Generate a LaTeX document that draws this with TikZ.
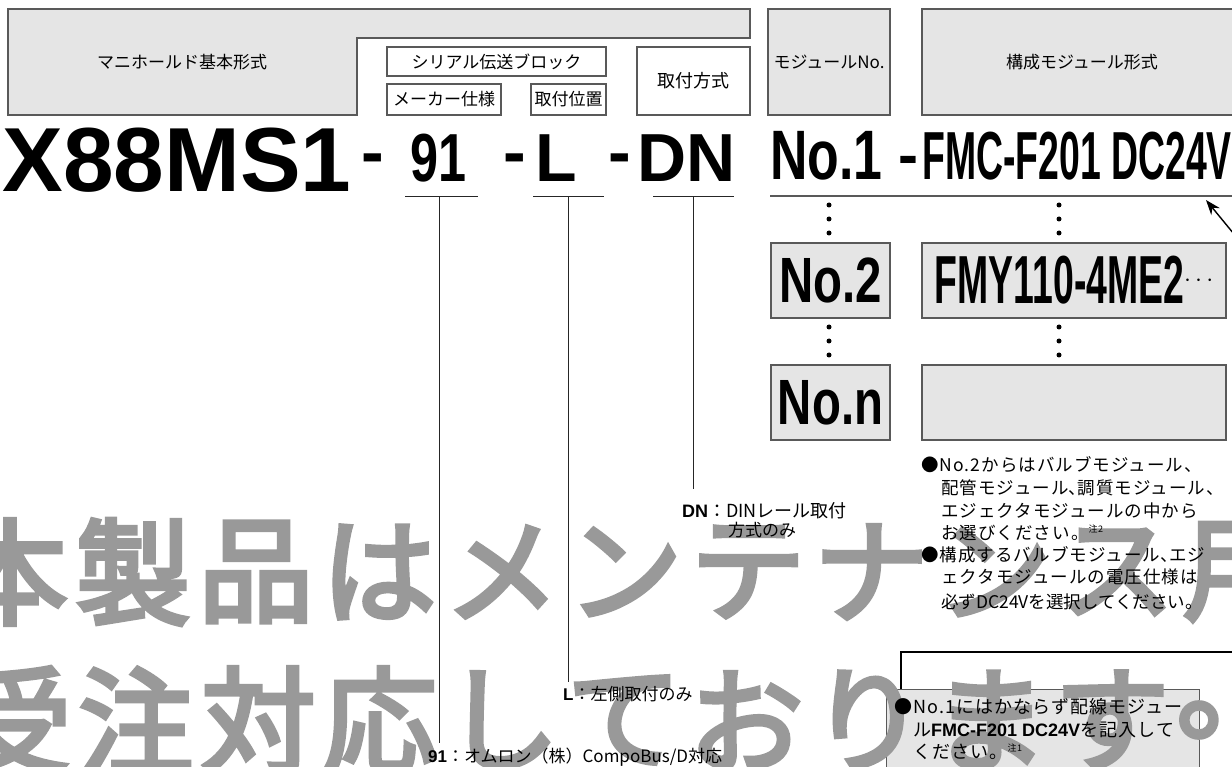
\documentclass[tikz,border=0pt]{standalone}
\usepackage{fontspec}
\setmainfont{Noto Sans CJK JP}
\newfontfamily\notefont{Noto Sans CJK JP}[LetterSpace=6]
\newfontfamily\stampfont{Noto Sans CJK JP}[FakeBold=4]
\newfontfamily\boldlatin{Liberation Sans}
\newfontfamily\condlatin{Liberation Sans}[FakeStretch=0.74]
\newfontfamily\narrowlatin{Liberation Sans}[FakeStretch=0.55]
\usetikzlibrary{arrows.meta}

\definecolor{panelgray}{gray}{0.9}
\definecolor{rulegray}{gray}{0.35}
\definecolor{stampgray}{gray}{0.6}

\newcommand{\pxsize}[1]{\fontsize{#1}{#1}\selectfont}
\newcommand{\halfcomma}{\makebox[9pt][l]{、}}

\begin{document}
\begin{tikzpicture}[x=1pt, y=-1pt,
    panel/.style={draw=rulegray, line width=1.4pt, fill=panelgray, inner sep=0pt},
    tag/.style={draw=rulegray, line width=1.2pt, fill=white, inner sep=0pt, font=\pxsize{17}},
    code/.style={anchor=base, inner sep=0pt, font=\boldlatin\bfseries\pxsize{68}},
    lead/.style={line width=1pt, draw=black!85},
    note/.style={anchor=west, inner sep=0pt, font=\pxsize{17}},
    hint/.style={anchor=west, inner sep=0pt, font=\notefont\pxsize{17.5}},
    stamp/.style={inner sep=0pt, text=stampgray, font=\stampfont\pxsize{115}}]
    \useasboundingbox (0,0) rectangle (1232,767);
    \clip (0,0) rectangle (1232,767);

    % header fields
    \draw [panel] (8,9) -- (750,9) -- (750,38) -- (357,38) -- (357,115) -- (8,115) -- cycle;
    \node [font=\pxsize{17}] (basename) at (182,62) {マニホールド基本形式};
    \node [tag, minimum width=219, minimum height=29] (serial) at (496.5,61.5) {シリアル伝送ブロック};
    \node [tag, minimum width=114, minimum height=31] (maker) at (444,99.5) {メーカー仕様};
    \node [tag, minimum width=75, minimum height=31] (mountpos) at (568.5,99.5) {取付位置};
    \node [tag, minimum width=113, minimum height=68, font=\pxsize{18}] (mountway) at (693.5,81) {取付方式};
    \node [panel, minimum width=122, minimum height=106, font=\pxsize{17}] (modno) at (829,62) {モジュールNo.};
    \node [panel, minimum width=320, minimum height=106, font=\pxsize{17}] (modtype) at (1082,62) {構成モジュール形式};

    % model code
    \node [code, font=\boldlatin\bfseries\pxsize{91}] (base) at (177,192) {X88MS1};
    \node [code] (dash1) at (373,176) {-};
    \node [code, font=\condlatin\bfseries\pxsize{68}] (maker91) at (438.5,182) {91};
    \node [code] (dash2) at (514.5,176) {-};
    \node [code] (side) at (556,182) {L};
    \node [code] (dash3) at (619.5,176) {-};
    \node [code] (rail) at (686.5,182) {DN};
    \node [code, font=\condlatin\bfseries\pxsize{70}] (first) at (826.5,180) {No.1};
    \node [code, font=\boldlatin\bfseries\pxsize{60}] (dash4) at (908,176) {-};
    \node [code, font=\narrowlatin\bfseries\pxsize{68}] (wiring) at (1077,180) {FMC-F201 DC24V};

    \draw [lead] (405,197) -- (478,197);
    \draw [lead] (533,197) -- (604,197);
    \draw [lead] (653,197) -- (734,197);
    \draw [draw=rulegray, line width=1.4pt] (770,196) -- (1232,196);
    \coordinate (bar91) at (439,197);
    \coordinate (barL) at (568,197);
    \coordinate (barDN) at (693,197);

    % module rows
    \node [panel, minimum width=119, minimum height=75, font=\condlatin\bfseries\pxsize{64}] (second) at (830.5,280.5) {No.2};
    \node [panel, minimum width=304, minimum height=75, font=\narrowlatin\bfseries\pxsize{68}] (secondtype) at (1074,280.5) {FMY110-4ME2\smash{\raisebox{17pt}{\pxsize{24}$\cdots$}}};
    \node [panel, minimum width=119, minimum height=75, font=\condlatin\bfseries\pxsize{64}] (last) at (830.5,402.5) {No.n};
    \node [panel, minimum width=304, minimum height=75] (lasttype) at (1074,402.5) {};
    \foreach \y in {205,219,233,327,341,355} {
        \fill (829,\y) circle (2.5);
        \fill (1059,\y) circle (2.5);
    }
    \coordinate (tip) at (1206,200);
    \coordinate (tail) at (1252,256);
    \draw [line width=1.4pt, -{Stealth[length=15pt, width=11pt]}] (tail) -- (tip);

    % note frame
    \draw [line width=2pt] (901,689) -- (901,652) -- (1240,652);
    \node [panel, minimum width=313, minimum height=100, anchor=north west] (mustbox) at (886,689) {};

    % watermark
    \foreach \c [count=\i from 0] in {本,製,品,は,メ,ン,テ,ナ,ン,ス,用}
        \node [stamp] (upper\i) at (10+123*\i,572) {\c};
    \foreach \c [count=\i from 0] in {受,注,対,応,し,て,お,り,ま,す,。}
        \node [stamp] (lower\i) at (14+122*\i,720) {\c};

    % option labels
    \node [note, font=\pxsize{18}] (dnlabel) at (682,511) {{\boldlatin\bfseries DN}：DINレール取付};
    \node [note] (dnlabel2) at (728,530) {方式のみ};
    \node [note] (sidelabel) at (563,694) {{\boldlatin\bfseries L}：左側取付のみ};
    \node [note] (makerlabel) at (428,757) {{\boldlatin\bfseries 91}：オムロン（株）CompoBus/D対応};
    \draw [lead] (barDN) -- (barDN |- dnlabel.north) [shorten >=14pt];
    \draw [lead] (barL) -- (barL |- sidelabel.north) [shorten >=4pt];
    \draw [lead] (bar91) -- (bar91 |- makerlabel.north) [shorten >=5pt];

    % notes
    \node [hint] (hint1) at (921,465) {●No.2からはバルブモジュール、};
    \node [hint] (hint2) at (941,488) {配管モジュール\halfcomma 調質モジュール、};
    \node [hint] (hint3) at (941,511) {エジェクタモジュールの中から};
    \node [hint] (hint4) at (941,533) {お選びください。\raisebox{7pt}{\pxsize{9}注2}};
    \node [hint] (hint5) at (921,555) {●構成するバルブモジュール\halfcomma エジ};
    \node [hint] (hint6) at (941,577) {ェクタモジュールの電圧仕様は};
    \node [hint, font=\pxsize{17.5}] (hint7) at (941,602) {必ずDC24Vを選択してください。};

    \node [hint, font=\notefont\pxsize{18}] (must1) at (894,707) {●No.1にはかならず配線モジュー};
    \node [hint, font=\notefont\pxsize{18}] (must2) at (913,730) {ル{\boldlatin\bfseries FMC-F201 DC24V}を記入して};
    \node [hint, font=\notefont\pxsize{18}] (must3) at (913,752) {ください。\raisebox{7pt}{\pxsize{9}注1}};
\end{tikzpicture}
\end{document}
